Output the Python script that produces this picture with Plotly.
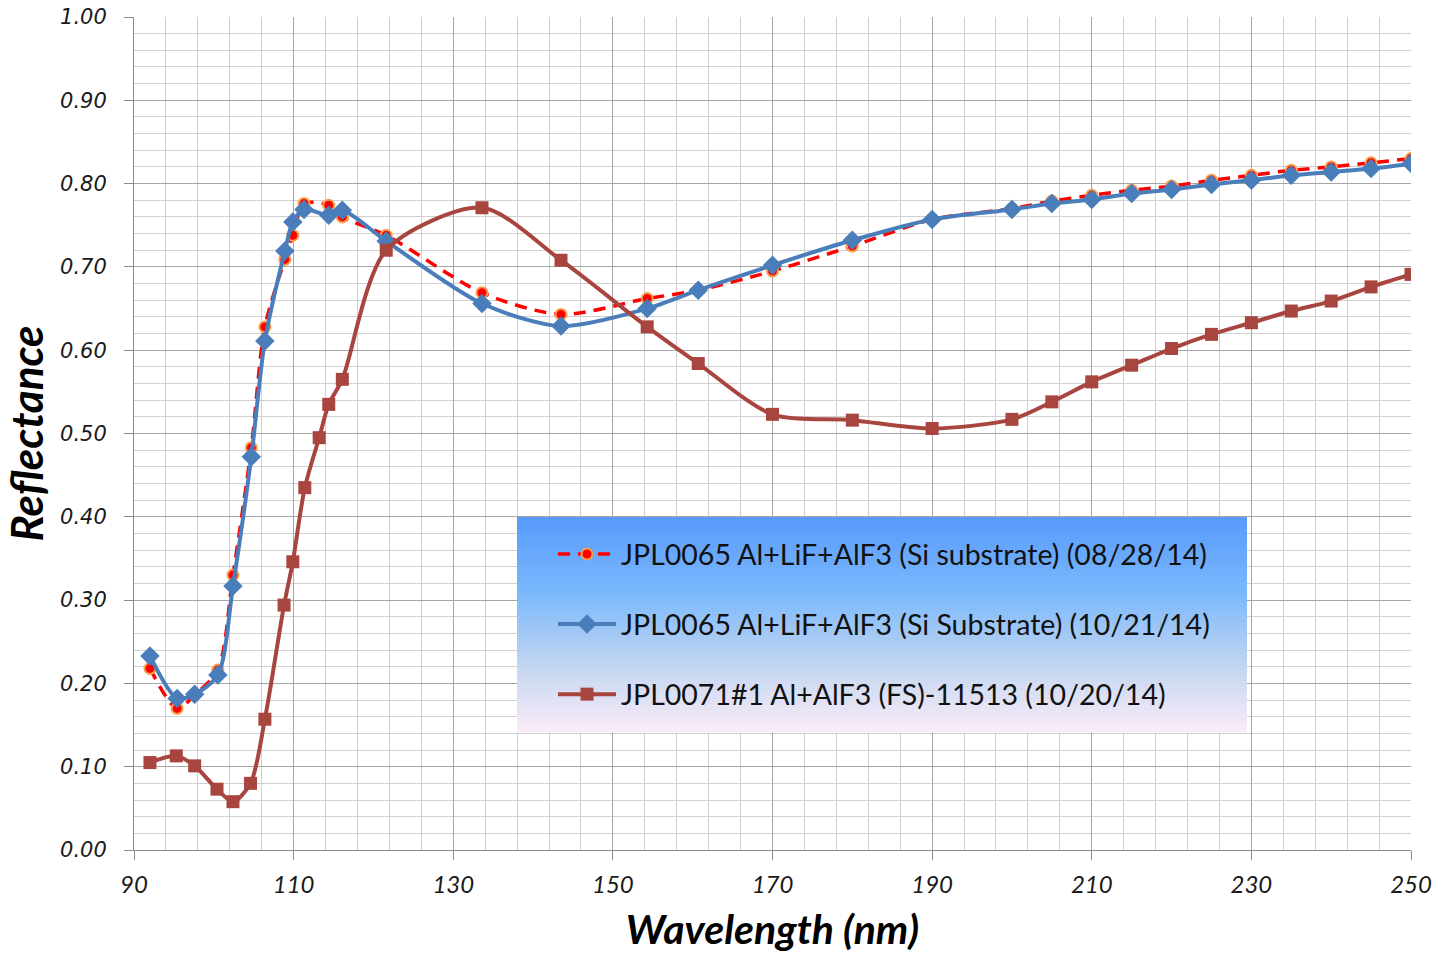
import plotly.graph_objects as go

# ---- data ----
wl_jpl0065 = [92.0, 95.4, 97.6, 100.5, 102.4, 104.7, 106.4, 108.9, 109.9, 111.3, 114.4, 116.1,
              121.6, 133.6, 143.5, 154.3, 160.7, 170, 180, 190, 200, 205, 210, 215, 220, 225,
              230, 235, 240, 245, 250]
refl_0828 = [0.218, 0.170, 0.186, 0.216, 0.330, 0.483, 0.628, 0.709, 0.738, 0.776, 0.774, 0.760,
             0.738, 0.669, 0.643, 0.662, 0.672, 0.695, 0.725, 0.757, 0.770, 0.779, 0.786, 0.792,
             0.797, 0.804, 0.810, 0.816, 0.820, 0.825, 0.830]
refl_1021 = [0.233, 0.182, 0.187, 0.210, 0.317, 0.472, 0.611, 0.719, 0.754, 0.769, 0.762, 0.768,
             0.731, 0.656, 0.629, 0.650, 0.672, 0.702, 0.732, 0.757, 0.769, 0.776, 0.781, 0.788,
             0.793, 0.799, 0.804, 0.810, 0.814, 0.818, 0.824]
wl_jpl0071 = [92.0, 95.3, 97.6, 100.4, 102.4, 104.6, 106.4, 108.8, 109.9, 111.4, 113.2, 114.4,
              116.1, 121.6, 133.6, 143.5, 154.3, 160.7, 170, 180, 190, 200, 205, 210, 215, 220,
              225, 230, 235, 240, 245, 250]
refl_1020 = [0.105, 0.113, 0.101, 0.073, 0.058, 0.080, 0.157, 0.294, 0.346, 0.435, 0.495, 0.535,
             0.565, 0.720, 0.771, 0.708, 0.628, 0.584, 0.523, 0.516, 0.506, 0.517, 0.538, 0.562,
             0.582, 0.602, 0.619, 0.633, 0.647, 0.659, 0.676, 0.691]
names = ["JPL0065 Al+LiF+AlF3 (Si substrate) (08/28/14)",
         "JPL0065 Al+LiF+AlF3 (Si Substrate) (10/21/14)",
         "JPL0071#1 Al+AlF3 (FS)-11513 (10/20/14)"]
x_ticks = [90, 110, 130, 150, 170, 190, 210, 230, 250]
y_ticks = [0.0, 0.1, 0.2, 0.3, 0.4, 0.5, 0.6, 0.7, 0.8, 0.9, 1.0]

W, H = 1441, 953
L, R, T, B = 134, 30, 17, 103
PW, PH = W - L - R, H - T - B

fig = go.Figure()
fig.add_trace(go.Scatter(
    x=wl_jpl0065, y=refl_0828, name=names[0], legendgroup="a", mode="lines+markers",
    line=dict(color="#FF0000", width=3.5, dash="12px,8px", shape="spline", smoothing=0.8),
    marker=dict(symbol="circle", size=11, color="#FF0000", line=dict(color="#F7A04B", width=2))))
fig.add_trace(go.Scatter(
    x=wl_jpl0065, y=refl_1021, name=names[1], legendgroup="b", mode="lines+markers",
    line=dict(color="#4A7EBB", width=4, shape="spline", smoothing=0.8),
    marker=dict(symbol="diamond", size=15, color="#4A7EBB")))
fig.add_trace(go.Scatter(
    x=wl_jpl0071, y=refl_1020, name=names[2], legendgroup="c", mode="lines+markers",
    line=dict(color="#A9453F", width=4, shape="spline", smoothing=0.8),
    marker=dict(symbol="square", size=13, color="#A9453F")))

# legend gradient background
bx0, bx1, by0, by1 = 517, 1247, 517, 732
stops = [(0.0, (88, 154, 252)), (0.35, (122, 184, 252)), (0.7, (196, 214, 240)), (1.0, (250, 236, 248))]
def col(t):
    for (t0, c0), (t1, c1) in zip(stops[:-1], stops[1:]):
        if t0 <= t <= t1:
            f = (t - t0) / (t1 - t0)
            return "rgb(%d,%d,%d)" % tuple(round(a + (b - a) * f) for a, b in zip(c0, c1))
    return "rgb(%d,%d,%d)" % stops[-1][1]
N = 72
shapes = []
for i in range(N):
    ya = by0 + (by1 - by0) * i / N
    yb = by0 + (by1 - by0) * (i + 1) / N + 0.6
    shapes.append(dict(type="rect", xref="paper", yref="paper", layer="above",
                       x0=(bx0 - L) / PW, x1=(bx1 - L) / PW,
                       y0=(H - B - yb) / PH, y1=(H - B - ya) / PH,
                       line=dict(width=0), fillcolor=col((i + 0.5) / N)))

fig.update_layout(
    width=W, height=H, margin=dict(l=L, r=R, t=T, b=B, autoexpand=False),
    paper_bgcolor="white", plot_bgcolor="white",
    shapes=shapes,
    showlegend=True,
    legend=dict(x=(553 - L) / PW, y=(H - B - 529) / PH, xanchor="left", yanchor="top",
                bgcolor="rgba(0,0,0,0)", borderwidth=0, tracegroupgap=30, itemwidth=58,
                font=dict(family="Lato", size=28.5, color="#111111")),
    xaxis=dict(range=[90, 250], tickmode="array", tickvals=x_ticks,
               showgrid=True, gridcolor="#A6A6A6", gridwidth=1,
               minor=dict(dtick=4, tick0=90, showgrid=True, gridcolor="#D0D0D0", gridwidth=1),
               showline=True, linecolor="#8C8C8C", linewidth=1,
               ticks="outside", ticklen=9, tickcolor="#8C8C8C",
               tickfont=dict(family="Lato", size=24, color="#1a1a1a", style="italic"),
               ticklabelstandoff=4, zeroline=False,
               title=dict(text="Wavelength (nm)", standoff=20,
                          font=dict(family="Lato", size=41, color="#000", weight="bold", style="italic"))),
    yaxis=dict(range=[0, 1.0], tickmode="array", tickvals=y_ticks,
               ticktext=["%.2f" % v for v in y_ticks],
               showgrid=True, gridcolor="#A6A6A6", gridwidth=1,
               minor=dict(dtick=0.02, tick0=0, showgrid=True, gridcolor="#D0D0D0", gridwidth=1),
               showline=True, linecolor="#8C8C8C", linewidth=1,
               ticks="outside", ticklen=9, tickcolor="#8C8C8C",
               tickfont=dict(family="DejaVu Sans", size=21, color="#1a1a1a", style="italic"),
               ticklabelstandoff=13, zeroline=False,
               title=dict(text="Reflectance", standoff=10,
                          font=dict(family="Lato", size=44, color="#000", weight="bold", style="italic"))),
)
fig.write_html("out.html")
